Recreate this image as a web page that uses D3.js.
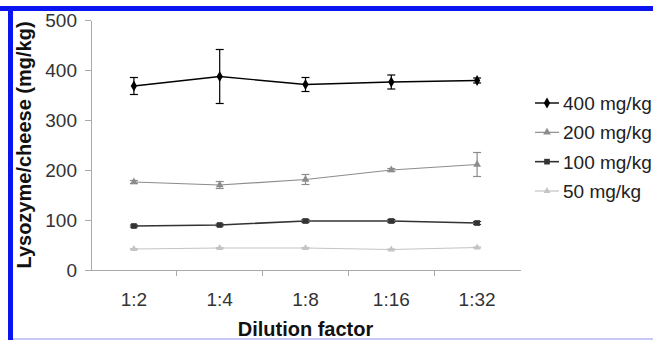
<!DOCTYPE html>
<html>
<head>
  <meta charset="UTF-8">
  <title>Lysozyme recovery</title>
  <style>
    body { margin: 0; background: #fff; }
    svg { display: block; font-family: "Liberation Sans", Arial, sans-serif; }
    .axis path, .axis line { stroke: #aaa; stroke-width: 1.3; shape-rendering: crispEdges; }
    .axis text { font-size: 19px; fill: #333; }
  </style>
</head>
<body>
<svg id="chart"></svg>
<script src="https://d3js.org/d3.v7.min.js"></script>
<script>

// dilution factors on the x axis
const categories = ["1:2", "1:4", "1:8", "1:16", "1:32"];
const yTicks = [0, 100, 200, 300, 400, 500];

// mean lysozyme found (mg/kg) and error bar half-heights, one pair per spike level
const s400 = [368, 387, 371, 376, 379];
const e400 = [17, 54, 14, 14, 5];
const s200 = [176, 170, 181, 200, 211];
const e200 = [3, 7, 10, 3, 24];
const s100 = [88, 90, 98, 98, 94];
const e100 = [2, 2, 3, 3, 3];
const s50 = [42, 44, 44, 41, 45];
const e50 = [1, 1, 1, 1, 1];

const seriesNames = ["400 mg/kg", "200 mg/kg", "100 mg/kg", "50 mg/kg"];

let width = 653, height = 340;

let series = [
  { name: seriesNames[0], vals: s400, errs: e400, color: "#000", sym: d3.symbolDiamond, size: 34, lw: 1.4 },
  { name: seriesNames[1], vals: s200, errs: e200, color: "#8c8c8c", sym: d3.symbolTriangle, size: 26, lw: 1.2 },
  { name: seriesNames[2], vals: s100, errs: e100, color: "#333", sym: d3.symbolSquare, size: 32, lw: 1.6 },
  { name: seriesNames[3], vals: s50, errs: e50, color: "#c4c4c4", sym: d3.symbolTriangle, size: 20, lw: 1.2 }
];

let svg = d3.select("#chart").attr("width", width).attr("height", height);

// blue frame from the scanned figure
svg.append("rect").attr("x", 0).attr("y", 6).attr("width", width).attr("height", 5).attr("fill", "#0a14f0");
svg.append("rect").attr("x", 8).attr("y", 6).attr("width", 5).attr("height", height - 6).attr("fill", "#0a14f0");
svg.append("rect").attr("x", 13).attr("y", 338).attr("width", width - 13).attr("height", 2).attr("fill", "#c8c8f4");

// scales
let x = d3.scaleBand().domain(categories).range([91, 520]).paddingInner(0).paddingOuter(0);
let cx = d => x(d) + x.bandwidth() / 2;
let y = d3.scaleLinear().domain([0, 500]).range([270, 20]);

// y axis
let yAxis = svg.append("g")
  .attr("class", "axis")
  .attr("transform", "translate(91,0)")
  .call(d3.axisLeft(y).tickValues(yTicks).tickSize(6).tickPadding(8).tickSizeOuter(0));
yAxis.selectAll("text").attr("dy", "0.36em");

// x axis, ticks sit between categories
let xAxis = svg.append("g")
  .attr("class", "axis")
  .attr("transform", "translate(0,270)")
  .call(d3.axisBottom(x).tickSize(0).tickSizeOuter(0).tickPadding(23));
xAxis.selectAll("text").attr("dy", "0.71em");
xAxis.selectAll(".sep")
  .data(categories.slice(1))
  .enter()
  .append("line")
  .attr("class", "sep")
  .attr("x1", d => x(d)).attr("x2", d => x(d))
  .attr("y1", 0).attr("y2", 6);

// axis titles
svg.append("text")
  .attr("transform", "translate(31," + y(250) + ") rotate(-90)")
  .attr("text-anchor", "middle")
  .style("font-size", "20px")
  .style("font-weight", "bold")
  .attr("fill", "#111")
  .text("Lysozyme/cheese (mg/kg)");

svg.append("text")
  .attr("x", (91 + 520) / 2)
  .attr("y", 336)
  .attr("text-anchor", "middle")
  .style("font-size", "20px")
  .style("font-weight", "bold")
  .attr("fill", "#111")
  .text("Dilution factor");

// lines, error bars and markers
let line = d3.line().x((d, i) => cx(categories[i])).y(d => y(d));

series.forEach(function (s) {
  let g = svg.append("g");

  g.append("path")
    .attr("d", line(s.vals))
    .attr("fill", "none")
    .attr("stroke", s.color)
    .attr("stroke-width", s.lw);

  let bars = g.selectAll(".err")
    .data(s.vals.map((v, i) => ({ c: categories[i], v: v, e: s.errs[i] })))
    .enter()
    .append("g")
    .attr("class", "err")
    .attr("stroke", s.color)
    .attr("stroke-width", 1.2);

  bars.append("line")
    .attr("x1", d => cx(d.c)).attr("x2", d => cx(d.c))
    .attr("y1", d => y(d.v - d.e)).attr("y2", d => y(d.v + d.e));
  bars.append("line")
    .attr("x1", d => cx(d.c) - 4).attr("x2", d => cx(d.c) + 4)
    .attr("y1", d => y(d.v + d.e)).attr("y2", d => y(d.v + d.e));
  bars.append("line")
    .attr("x1", d => cx(d.c) - 4).attr("x2", d => cx(d.c) + 4)
    .attr("y1", d => y(d.v - d.e)).attr("y2", d => y(d.v - d.e));

  g.selectAll(".pt")
    .data(s.vals)
    .enter()
    .append("path")
    .attr("class", "pt")
    .attr("d", d3.symbol().type(s.sym).size(s.size))
    .attr("transform", (d, i) => "translate(" + cx(categories[i]) + "," + y(d) + ")")
    .attr("fill", s.color);
});

// legend
let ly = d3.scalePoint().domain(seriesNames).range([103, 191]);
let legend = svg.append("g");
series.forEach(function (s) {
  let row = legend.append("g").attr("transform", "translate(0," + ly(s.name) + ")");
  row.append("line")
    .attr("x1", 535).attr("x2", 559)
    .attr("stroke", s.color).attr("stroke-width", s.lw);
  row.append("path")
    .attr("d", d3.symbol().type(s.sym).size(s.size))
    .attr("transform", "translate(547,0)")
    .attr("fill", s.color);
  row.append("text")
    .attr("x", 563)
    .attr("dy", "0.36em")
    .style("font-size", "19px")
    .attr("fill", "#222")
    .text(s.name);
});

</script>
</body>
</html>
